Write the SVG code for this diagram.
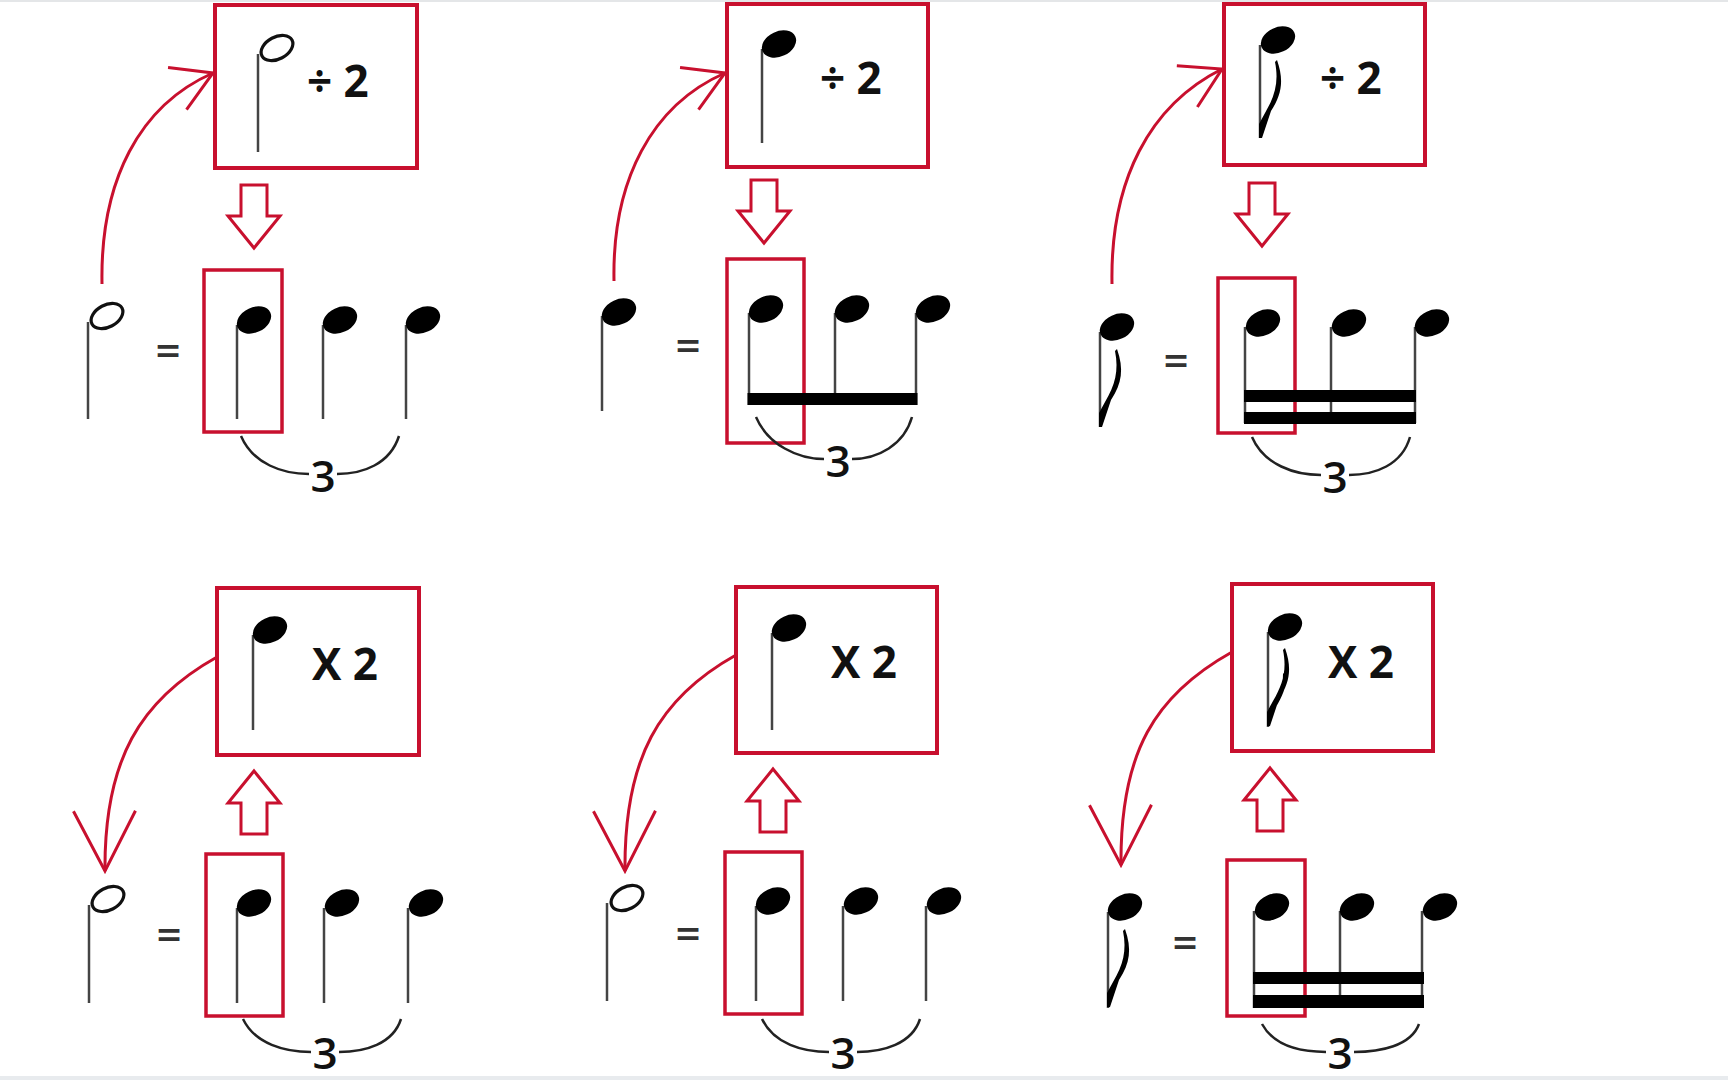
<svg xmlns="http://www.w3.org/2000/svg" xmlns:xlink="http://www.w3.org/1999/xlink" width="1728" height="1080" viewBox="0 0 1728 1080">
<style>
.box{fill:none;stroke:#c8102e;stroke-width:4}
.sbox{fill:none;stroke:#c8102e;stroke-width:3.5}
.blk{fill:#fff;stroke:#c8102e;stroke-width:3}
.curve{fill:none;stroke:#c8102e;stroke-width:3}
.stem{stroke:#444;stroke-width:2.5}
.beam{fill:#000}
.hd{fill:#000}
.hh{fill:none;stroke:#111;stroke-width:3.2}
.tup{fill:none;stroke:#222;stroke-width:2.5}
.lbl{font-family:"Open Sans","Liberation Sans",sans-serif;font-weight:700;font-size:44px;fill:#111}
.eq{font-family:"Open Sans","Liberation Sans",sans-serif;font-weight:600;font-size:44px;fill:#333;text-anchor:middle}
.three{font-family:"Open Sans","Liberation Sans",sans-serif;font-weight:600;font-size:44px;fill:#111;text-anchor:middle}
</style>
<defs>
<ellipse id="hd" class="hd" rx="18" ry="12.5" transform="rotate(-25)"/>
<ellipse id="hh" class="hh" rx="17" ry="11" transform="rotate(-28)"/>
<path id="flag8" d="M17,16 C24,36 22,50 11,67 L2,94 L-1,94 L-1,80 L5,69 C15,52 19,38 15,18 Z" fill="#000"/>
<path id="flag16" d="M17,16 C24,36 22,50 11,67 L2,94 L-1,94 L-1,80 L5,69 C15,52 19,38 15,18 Z M18,38 C20,52 15,63 8,75 L1,89 L1,82 L6,72 C12,61 15,52 15,42 Z" fill="#000"/>
<path id="down" class="blk" d="M-13,0 H13 V31 H26 L0,63 L-26,31 H-13 Z"/>
<path id="up" class="blk" d="M0,0 L26,32 H13 V63 H-13 V32 H-26 Z"/>
<marker id="vTop" markerUnits="userSpaceOnUse" viewBox="-50 -40 60 80" refX="0" refY="0" markerWidth="60" markerHeight="80" orient="auto" overflow="visible">
<path d="M-39,-23 L0,0 L-39,23" fill="none" stroke="#c8102e" stroke-width="3"/>
</marker>
<marker id="vBot" markerUnits="userSpaceOnUse" viewBox="-70 -40 80 80" refX="0" refY="0" markerWidth="80" markerHeight="80" orient="auto" overflow="visible">
<path d="M-60,-31 L0,0 L-60,31" fill="none" stroke="#c8102e" stroke-width="3"/>
</marker>
</defs>
<rect width="1728" height="1080" fill="#fff"/>
<rect x="0" y="0" width="1728" height="2" fill="#e4e6e8"/>
<rect x="0" y="1076" width="1728" height="4" fill="#e8ebee"/>

<g id="connectors">
<path class="curve" d="M102,284 C100,180 140,105 213,73" marker-end="url(#vTop)"/>
<path class="curve" d="M614,281 C612,180 652,105 725,73" marker-end="url(#vTop)"/>
<path class="curve" d="M1112,284 C1110,180 1150,105 1222,69" marker-end="url(#vTop)"/>
<path class="curve" d="M217,657 C140,700 104,760 105,871" marker-end="url(#vBot)"/>
<path class="curve" d="M736,655 C659,698 624,758 625,871" marker-end="url(#vBot)"/>
<path class="curve" d="M1232,652 C1155,695 1120,752 1121,865" marker-end="url(#vBot)"/>
<use href="#down" x="254" y="185"/>
<use href="#down" x="764" y="180"/>
<use href="#down" x="1262" y="183"/>
<use href="#up" x="254" y="771"/>
<use href="#up" x="773" y="769"/>
<use href="#up" x="1270" y="768"/>
</g>

<g id="p1-top">
<rect class="box" x="215" y="5" width="202" height="163"/>
<line class="stem" x1="258" y1="54" x2="258" y2="152"/>
<use href="#hh" x="277" y="48"/>
<text class="lbl" x="307" y="97">÷ 2</text>
</g>
<g id="p1-bottom">
<rect class="sbox" x="204" y="270" width="78" height="162"/>
<line class="stem" x1="88" y1="322" x2="88" y2="419"/>
<use href="#hh" x="107" y="316"/>
<text class="eq" x="168" y="366">=</text>
<line class="stem" x1="237" y1="325" x2="237" y2="419"/>
<line class="stem" x1="323" y1="325" x2="323" y2="419"/>
<line class="stem" x1="406" y1="325" x2="406" y2="419"/>
<use href="#hd" x="254" y="320"/>
<use href="#hd" x="340" y="320"/>
<use href="#hd" x="423" y="320"/>
<path class="tup" d="M241,436 C253,464 283,474 309,474 M337,474 C363,474 390,464 399,436"/>
<text class="three" x="323" y="492">3</text>
</g>

<g id="p2-top">
<rect class="box" x="727" y="4" width="201" height="163"/>
<line class="stem" x1="762" y1="49" x2="762" y2="143"/>
<use href="#hd" x="779" y="44"/>
<text class="lbl" x="820" y="94">÷ 2</text>
</g>
<g id="p2-bottom">
<rect class="sbox" x="727" y="259" width="77" height="184"/>
<line class="stem" x1="602" y1="316" x2="602" y2="411"/>
<use href="#hd" x="619" y="312"/>
<text class="eq" x="688" y="361">=</text>
<line class="stem" x1="749" y1="313" x2="749" y2="405"/>
<line class="stem" x1="835" y1="313" x2="835" y2="405"/>
<line class="stem" x1="916" y1="313" x2="916" y2="405"/>
<use href="#hd" x="766" y="309"/>
<use href="#hd" x="852" y="309"/>
<use href="#hd" x="933" y="309"/>
<rect class="beam" x="747.5" y="393" width="170" height="12"/>
<path class="tup" d="M756,417 C768,445 798,459 824,459 M852,459 C878,459 904,445 912,417"/>
<text class="three" x="838" y="477">3</text>
</g>

<g id="p3-top">
<rect class="box" x="1224" y="4" width="201" height="161"/>
<line class="stem" x1="1260" y1="45" x2="1260" y2="138"/>
<use href="#flag8" x="1260" y="44"/>
<use href="#hd" x="1278" y="40"/>
<text class="lbl" x="1320" y="94">÷ 2</text>
</g>
<g id="p3-bottom">
<rect class="sbox" x="1218" y="278" width="77" height="155"/>
<line class="stem" x1="1100" y1="332" x2="1100" y2="427"/>
<use href="#flag8" x="1100" y="333"/>
<use href="#hd" x="1117" y="327"/>
<text class="eq" x="1176" y="376">=</text>
<line class="stem" x1="1245" y1="327" x2="1245" y2="423"/>
<line class="stem" x1="1331" y1="327" x2="1331" y2="423"/>
<line class="stem" x1="1415" y1="327" x2="1415" y2="423"/>
<use href="#hd" x="1263" y="323"/>
<use href="#hd" x="1349" y="323"/>
<use href="#hd" x="1432" y="323"/>
<rect class="beam" x="1244" y="390" width="172" height="12"/>
<rect class="beam" x="1244" y="412" width="172" height="12"/>
<path class="tup" d="M1252,437 C1264,465 1295,475 1321,475 M1349,475 C1375,475 1402,465 1410,437"/>
<text class="three" x="1335" y="493">3</text>
</g>

<g id="p4-top">
<rect class="box" x="217" y="588" width="202" height="167"/>
<line class="stem" x1="253" y1="635" x2="253" y2="730"/>
<use href="#hd" x="270" y="630"/>
<text class="lbl" x="312" y="680">X 2</text>
</g>
<g id="p4-bottom">
<rect class="sbox" x="206" y="854" width="77" height="162"/>
<line class="stem" x1="89" y1="905" x2="89" y2="1003"/>
<use href="#hh" x="108" y="899"/>
<text class="eq" x="169" y="950">=</text>
<line class="stem" x1="237" y1="908" x2="237" y2="1003"/>
<line class="stem" x1="324" y1="908" x2="324" y2="1003"/>
<line class="stem" x1="408" y1="908" x2="408" y2="1003"/>
<use href="#hd" x="254" y="903"/>
<use href="#hd" x="342" y="903"/>
<use href="#hd" x="426" y="903"/>
<path class="tup" d="M243,1019 C255,1044 285,1052 311,1052 M339,1052 C365,1052 393,1044 401,1019"/>
<text class="three" x="325" y="1069">3</text>
</g>

<g id="p5-top">
<rect class="box" x="736" y="587" width="201" height="166"/>
<line class="stem" x1="772" y1="633" x2="772" y2="730"/>
<use href="#hd" x="789" y="628"/>
<text class="lbl" x="831" y="678">X 2</text>
</g>
<g id="p5-bottom">
<rect class="sbox" x="725" y="852" width="77" height="162"/>
<line class="stem" x1="607" y1="903" x2="607" y2="1001"/>
<use href="#hh" x="627" y="898"/>
<text class="eq" x="688" y="949">=</text>
<line class="stem" x1="756" y1="906" x2="756" y2="1001"/>
<line class="stem" x1="843" y1="906" x2="843" y2="1001"/>
<line class="stem" x1="926" y1="906" x2="926" y2="1001"/>
<use href="#hd" x="773" y="901"/>
<use href="#hd" x="861" y="901"/>
<use href="#hd" x="944" y="901"/>
<path class="tup" d="M762,1019 C774,1044 803,1052 829,1052 M857,1052 C883,1052 912,1044 920,1019"/>
<text class="three" x="843" y="1069">3</text>
</g>

<g id="p6-top">
<rect class="box" x="1232" y="584" width="201" height="167"/>
<line class="stem" x1="1268" y1="632" x2="1268" y2="727"/>
<use href="#flag16" x="1268" y="632"/>
<use href="#hd" x="1285" y="627"/>
<text class="lbl" x="1328" y="678">X 2</text>
</g>
<g id="p6-bottom">
<rect class="sbox" x="1227" y="860" width="78" height="156"/>
<line class="stem" x1="1108" y1="912" x2="1108" y2="1008"/>
<use href="#flag8" x="1108" y="913"/>
<use href="#hd" x="1125" y="907"/>
<text class="eq" x="1185" y="958">=</text>
<line class="stem" x1="1254" y1="911" x2="1254" y2="1008"/>
<line class="stem" x1="1340" y1="911" x2="1340" y2="1008"/>
<line class="stem" x1="1422" y1="911" x2="1422" y2="1008"/>
<use href="#hd" x="1272" y="907"/>
<use href="#hd" x="1357" y="907"/>
<use href="#hd" x="1440" y="907"/>
<rect class="beam" x="1253" y="972" width="171" height="12"/>
<rect class="beam" x="1253" y="995" width="171" height="13"/>
<path class="tup" d="M1262,1024 C1274,1046 1300,1052 1326,1052 M1354,1052 C1380,1052 1411,1046 1419,1024"/>
<text class="three" x="1340" y="1069">3</text>
</g>
</svg>
